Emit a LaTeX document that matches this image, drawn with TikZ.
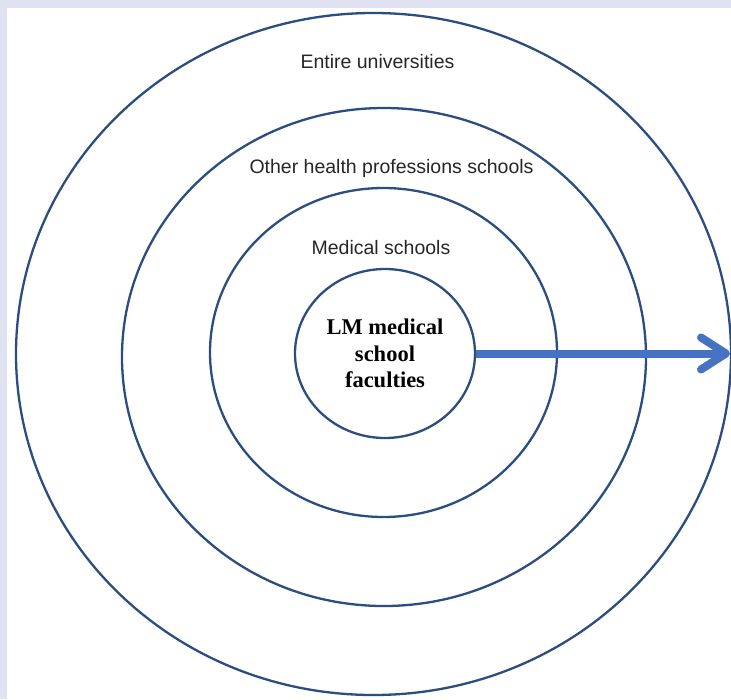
\documentclass[tikz,border=0pt]{standalone}
\usepackage{fontspec}
\setmainfont{Liberation Sans}
\newfontfamily\serifbold{Liberation Serif}
\usetikzlibrary{shapes.geometric}
\definecolor{ringblue}{RGB}{44,77,128}
\definecolor{arrowblue}{RGB}{70,114,196}
\definecolor{framebg}{RGB}{224,226,242}
\begin{document}
\begin{tikzpicture}[x=1pt,y=-1pt,
  ring/.style={draw=ringblue, line width=2.3pt, ellipse, inner sep=0pt},
  lbl/.style={font=\fontsize{19.5}{23}\selectfont, anchor=base, inner sep=0pt, text=black!85},
  core/.style={ring, font=\serifbold\bfseries\fontsize{22.5}{26.5}\selectfont, align=center},
  flow/.style={draw=arrowblue, line width=8pt}]
\fill[framebg] (0,0) rectangle (731,699);
\fill[white] (7,8) rectangle (731,699);
\useasboundingbox (0,0) rectangle (731,699);
\node[ring, minimum width=715pt, minimum height=682pt] (univ) at (373.5,354) {};
\node[ring, minimum width=524pt, minimum height=498pt] (health) at (384,357) {};
\node[ring, minimum width=347pt, minimum height=329pt] (med) at (383.5,352.5) {};
\node[core, minimum width=180pt, minimum height=169pt] (lm) at (385,353.5) {LM medical\\school\\faculties};
\node[lbl] (tuniv) at (377.5,68) {Entire universities};
\node[lbl] (thealth) at (391.5,173) {Other health professions schools};
\node[lbl] (tmed) at (381,254) {Medical schools};
\coordinate (tip) at (lm.east -| 726,0);
\draw[flow] (lm.east) -- (tip);
\draw[flow, line cap=round, line join=round] (tip) ++(-25,-16) -- (tip) -- ++(-25,16);
\end{tikzpicture}
\end{document}
